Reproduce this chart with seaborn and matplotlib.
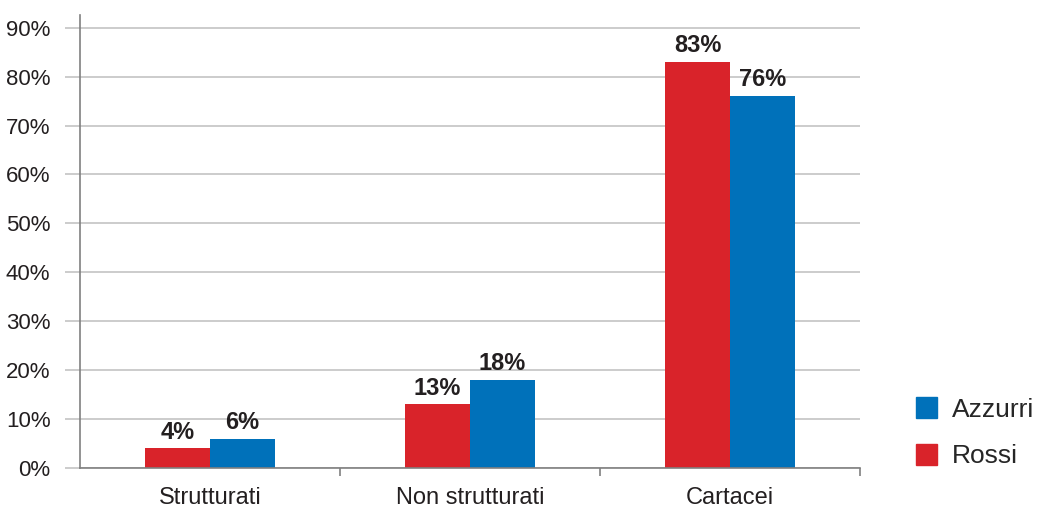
import matplotlib
matplotlib.use("Agg")
import matplotlib.pyplot as plt
import seaborn as sns
import pandas as pd
from matplotlib.patches import Patch

# --- data ---
categories = ["Strutturati", "Non strutturati", "Cartacei"]
series = ["Rossi", "Azzurri"]
rossi = [4, 13, 83]
azzurri = [6, 18, 76]
y_ticks = [0, 10, 20, 30, 40, 50, 60, 70, 80, 90]

colors = {"Rossi": "#D9232A", "Azzurri": "#0071BA"}

df = pd.DataFrame({
    "categoria": categories * 2,
    "serie": ["Rossi"] * 3 + ["Azzurri"] * 3,
    "valore": rossi + azzurri,
})

sns.set_style("white")
plt.rcParams["font.family"] = ["Liberation Sans", "DejaVu Sans"]

fig = plt.figure(figsize=(10.39, 5.08), dpi=100)
ax = fig.add_axes([80 / 1039, 40 / 508, 780 / 1039, 453 / 508])

sns.barplot(data=df, x="categoria", y="valore", hue="serie", hue_order=series,
            palette=colors, width=0.5, saturation=1, linewidth=0, ax=ax, legend=False)

ax.set_xlim(-0.5, 2.5)
ax.set_ylim(0, 92.6)
ax.set_yticks(y_ticks)
ax.set_yticklabels([f"{t}%" for t in y_ticks], fontsize=16, color="#231F20")
ax.yaxis.grid(True, color="#C4C4C4", linewidth=1.2)
ax.set_axisbelow(True)
ax.tick_params(axis="y", left=True, length=10.8, width=1.2, color="#C4C4C4", pad=10.5)

# category labels, ticks between groups
ax.set_xticks([0, 1, 2])
ax.set_xticklabels(categories, fontsize=17, color="#231F20")
ax.tick_params(axis="x", which="major", bottom=False, length=0, pad=14)
ax.set_xticks([0.5, 1.5, 2.5], minor=True)
ax.tick_params(axis="x", which="minor", bottom=True, length=5.5, width=1.2, color="#808080")

ax.set_xlabel("")
ax.set_ylabel("")
for side in ["top", "right"]:
    ax.spines[side].set_visible(False)
for side in ["left", "bottom"]:
    ax.spines[side].set_color("#808080")
    ax.spines[side].set_linewidth(1.2)

# value labels
for cont in ax.containers:
    ax.bar_label(cont, labels=[f"{v:.0f}%" for v in cont.datavalues],
                 fontsize=17, fontweight="bold", color="#231F20", padding=3.5)

handles = [Patch(color=colors["Azzurri"], label="Azzurri"),
           Patch(color=colors["Rossi"], label="Rossi")]
fig.legend(handles=handles, loc="lower left", bbox_to_anchor=(905 / 1039, 29 / 508),
           frameon=False, fontsize=19, handlelength=0.83, handleheight=0.83,
           labelspacing=0.85, handletextpad=0.55, borderaxespad=0)

fig.savefig("out.png", dpi=100)
